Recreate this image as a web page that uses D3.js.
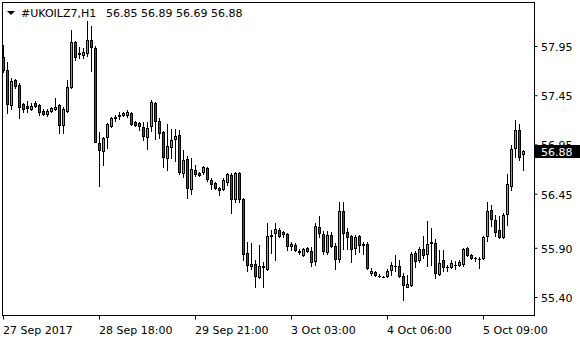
<!DOCTYPE html>
<html><head><meta charset="utf-8">
<script src="https://cdn.jsdelivr.net/npm/d3@7"></script>
<style>
html,body{margin:0;padding:0;background:#fff;}
svg{display:block;}
text{font-family:"DejaVu Sans",Verdana,sans-serif;font-size:11px;fill:#000;}
</style></head>
<body>
<svg id="chart" width="580" height="340"></svg>
<script>
const symbol = "#UKOILZ7,H1";
const open = [57.84,57.71,57.35,57.60,57.55,57.36,57.34,57.31,57.37,57.35,57.29,57.26,57.29,57.31,57.35,57.15,57.29,57.53,57.99,57.87,
57.86,57.88,58.01,57.93,56.96,56.88,57.03,57.14,57.22,57.24,57.25,57.25,57.27,57.18,57.17,57.13,57.03,57.14,57.37,57.19,
57.08,56.81,56.92,57.01,57.05,56.66,56.80,56.50,56.69,56.66,56.67,56.71,56.59,56.56,56.51,56.50,56.57,56.64,56.40,56.66,
56.40,55.85,55.71,55.74,55.60,55.72,55.68,56.03,56.05,56.08,56.04,56.04,55.92,55.93,55.87,55.83,55.90,55.87,55.77,56.11,
56.04,55.86,56.03,55.92,55.79,56.27,56.06,56.02,55.90,56.02,55.94,55.94,55.64,55.65,55.61,55.60,55.61,55.67,55.72,55.71,
55.61,55.50,55.52,55.85,55.78,55.89,55.84,55.95,55.95,55.63,55.78,55.70,55.70,55.73,55.73,55.74,55.90,55.83,55.80,55.79,
55.80,56.02,56.28,56.18,56.08,56.01,56.24,56.53,56.91,57.10,56.85];
const high = [57.96,57.79,57.62,57.61,57.57,57.37,57.39,57.37,57.39,57.36,57.31,57.31,57.33,57.42,57.36,57.33,57.60,58.11,58.00,57.94,
57.93,58.20,58.15,57.95,57.08,57.03,57.17,57.23,57.25,57.28,57.28,57.30,57.28,57.19,57.18,57.18,57.18,57.40,57.38,57.22,
57.09,57.16,57.11,57.11,57.10,56.89,56.83,56.81,56.74,56.67,56.73,56.72,56.61,56.57,56.52,56.61,56.66,56.66,56.67,56.67,
56.41,55.96,55.95,55.78,55.93,55.76,56.15,56.08,56.15,56.10,56.07,56.05,55.96,55.95,55.89,55.90,55.91,55.91,56.15,56.22,
56.07,56.07,56.06,55.95,56.37,56.37,56.10,56.03,56.03,56.03,55.96,55.96,55.69,55.66,55.63,55.61,55.68,55.76,55.83,55.78,
55.64,55.62,55.86,55.87,55.91,56.02,56.17,56.10,55.99,55.88,55.88,55.73,55.78,55.77,55.78,55.90,55.91,55.84,55.81,55.81,
56.02,56.37,56.33,56.23,56.22,56.25,56.65,56.94,57.20,57.16,56.89];
const low = [57.69,57.27,57.31,57.52,57.22,57.28,57.28,57.30,57.33,57.25,57.25,57.24,57.28,57.30,57.07,57.07,57.28,57.52,57.81,57.83,
57.83,57.85,57.70,56.97,56.53,56.74,56.91,57.13,57.19,57.21,57.24,57.23,57.15,57.14,57.10,57.00,56.90,57.09,57.01,57.02,
56.72,56.69,56.81,56.78,56.65,56.62,56.41,56.45,56.63,56.63,56.65,56.58,56.50,56.50,56.44,56.49,56.54,56.25,56.37,56.37,
55.78,55.66,55.68,55.50,55.59,55.50,55.67,55.85,55.78,56.01,56.01,55.88,55.88,55.87,55.84,55.82,55.86,55.71,55.73,56.01,
55.84,55.84,55.91,55.68,55.76,55.89,55.89,55.76,55.84,55.86,55.84,55.68,55.62,55.61,55.60,55.60,55.60,55.62,55.66,55.60,
55.37,55.50,55.51,55.70,55.76,55.80,55.72,55.73,55.59,55.62,55.66,55.66,55.69,55.68,55.71,55.71,55.82,55.79,55.77,55.69,
55.79,55.97,56.12,56.02,56.00,56.00,56.13,56.49,56.82,56.79,56.69];
const close = [57.71,57.36,57.59,57.54,57.33,57.31,57.32,57.34,57.34,57.28,57.26,57.29,57.32,57.33,57.15,57.31,57.53,57.99,57.84,57.88,
57.89,58.01,57.94,56.97,56.89,57.02,57.16,57.22,57.23,57.25,57.27,57.28,57.16,57.15,57.14,57.04,57.12,57.38,57.19,57.07,
56.82,56.93,57.00,57.04,56.67,56.79,56.51,56.70,56.65,56.64,56.72,56.60,56.55,56.51,56.49,56.59,56.65,56.40,56.66,56.40,
55.84,55.73,55.74,55.61,55.71,55.70,56.02,56.02,56.09,56.02,56.06,55.92,55.94,55.88,55.86,55.89,55.87,55.76,56.12,56.05,
55.87,56.03,55.92,55.79,56.27,56.05,56.01,55.89,56.01,55.93,55.93,55.69,55.66,55.62,55.61,55.60,55.66,55.73,55.72,55.61,
55.52,55.53,55.84,55.77,55.89,55.83,55.94,55.96,55.64,55.75,55.70,55.70,55.75,55.73,55.76,55.89,55.83,55.80,55.80,55.79,
56.01,56.27,56.19,56.06,56.01,56.23,56.55,56.90,57.10,56.82,56.88];
const yTicks = [57.95, 57.45, 56.95, 56.45, 55.90, 55.40];
const xTickIdx = [0, 24, 48, 72, 96, 120];
const xTickLabels = ["27 Sep 2017", "28 Sep 18:00", "29 Sep 21:00", "3 Oct 03:00", "4 Oct 06:00", "5 Oct 09:00"];

const svg = d3.select("#chart");
const n = open.length;
const x = d3.scaleLinear().domain([0, n - 1]).range([3, 3 + 4 * (n - 1)]);
const y = d3.scaleLinear().domain([55.40, 57.95]).range([297, 46]);
const yr = v => Math.round(y(v));

svg.append("defs").append("clipPath").attr("id","plot")
  .append("rect").attr("x",3).attr("y",3).attr("width",531).attr("height",312);

const g = svg.append("g").attr("clip-path","url(#plot)");
const data = d3.range(n).map(i => ({i, o: open[i], h: high[i], l: low[i], c: close[i]}));

g.selectAll("rect.wick").data(data).join("rect").attr("class","wick")
  .attr("x", d => Math.round(x(d.i)))
  .attr("y", d => yr(d.h))
  .attr("width", 1)
  .attr("height", d => yr(d.l) - yr(d.h) + 1)
  .attr("fill", "#000");

data.forEach(d => {
  const col = Math.round(x(d.i));
  const top = Math.min(yr(d.o), yr(d.c));
  const bot = Math.max(yr(d.o), yr(d.c));
  if (bot - top < 1) {
    g.append("rect").attr("x", col - 1).attr("y", top).attr("width", 3).attr("height", 1).attr("fill", "#000");
  } else {
    g.append("rect").attr("x", col - 0.5).attr("y", top + 0.5).attr("width", 2).attr("height", bot - top)
      .attr("fill", d.c > d.o ? "#00ff00" : "#ff0000").attr("stroke", "#000").attr("stroke-width", 1);
  }
});

// frame
svg.append("rect").attr("x",2.5).attr("y",2.5).attr("width",532).attr("height",313)
  .attr("fill","none").attr("stroke","#000").attr("stroke-width",1);

// right axis
const ya = svg.append("g").attr("transform","translate(534.5,0)")
  .call(d3.axisRight(y).tickValues(yTicks).tickSize(3).tickPadding(3).tickFormat(d3.format(".2f")));
ya.select(".domain").remove();
ya.selectAll("line").attr("stroke","#000");
ya.selectAll("text").attr("dy",null).attr("y",4.5).attr("x",6.5)
  .style("font-family","'DejaVu Sans',Verdana,sans-serif").style("font-size","11px").attr("fill","#000");

// bottom axis
const xa = svg.append("g").attr("transform","translate(0,315.5)")
  .call(d3.axisBottom(x).tickValues(xTickIdx).tickSize(4).tickFormat((d, i) => xTickLabels[i]));
xa.select(".domain").remove();
xa.selectAll("line").attr("stroke","#000");
xa.selectAll("text").attr("dy",null).attr("y",18).attr("x",-0.5).attr("text-anchor","start")
  .style("font-family","'DejaVu Sans',Verdana,sans-serif").style("font-size","11px").attr("fill","#000");

// current price label
const last = close[n - 1];
const ly = yr(last);
svg.append("rect").attr("x",535).attr("y",ly - 6).attr("width",45).attr("height",13).attr("fill","#000");
svg.append("text").attr("x",541).attr("y",ly + 4.5).style("fill","#fff").text(d3.format(".2f")(last));

// header
svg.append("path").attr("d","M7,11 L15,11 L11,15 Z").attr("fill","#000");
svg.append("text").attr("x",21).attr("y",17).text(symbol);
svg.append("text").attr("x",106).attr("y",17)
  .text([open[n-1], high[n-1], low[n-1], close[n-1]].map(d3.format(".2f")).join(" "));
</script>
</body></html>
